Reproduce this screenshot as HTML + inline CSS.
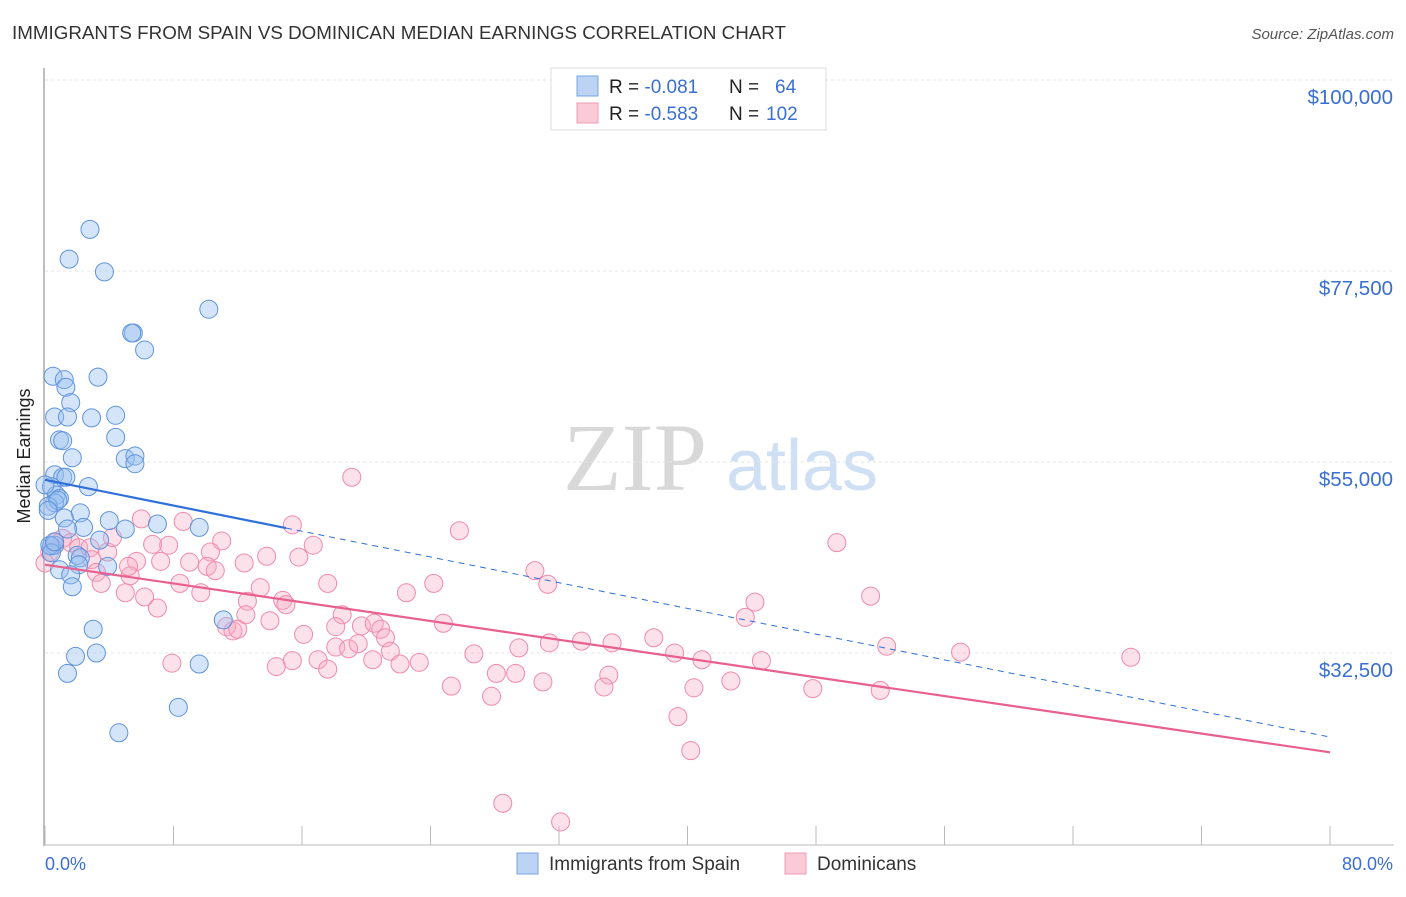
<!DOCTYPE html>
<html><head><meta charset="utf-8"><style>
body{margin:0;background:#fff;font-family:"Liberation Sans",sans-serif}
svg text{font-family:"Liberation Sans",sans-serif}
</style></head><body>
<svg id="chart" width="1406" height="892" xmlns="http://www.w3.org/2000/svg">
<text x="12" y="39" font-size="18" fill="#333" textLength="774" lengthAdjust="spacingAndGlyphs">IMMIGRANTS FROM SPAIN VS DOMINICAN MEDIAN EARNINGS CORRELATION CHART</text>
<text x="1394" y="39" font-size="15" fill="#555" text-anchor="end" font-style="italic">Source: ZipAtlas.com</text>
<g>
<text x="635" y="490" font-size="96" fill="#d8d8d8" text-anchor="middle" font-family="Liberation Serif" style="font-family:'Liberation Serif',serif">ZIP</text>
<text x="802" y="490" font-size="72" fill="#cfe0f5" text-anchor="middle">atlas</text>
</g>
<g id="grid"></g>
<line x1="44" y1="68" x2="44" y2="846" stroke="#aaa" stroke-width="1.5"/>
<line x1="44" y1="845" x2="1394" y2="845" stroke="#bbb" stroke-width="1"/>
<g id="xticks"></g>
<text x="30" y="456" font-size="18" fill="#222" text-anchor="middle" transform="rotate(-90 30 456)">Median Earnings</text>
<text x="45" y="870" font-size="18" fill="#3a6fd1">0.0%</text>
<text x="1393" y="870" font-size="18" fill="#3a6fd1" text-anchor="end">80.0%</text>
<g id="pink"></g><g id="blue"></g><g id="trends"></g>
<g>
<rect x="551" y="68" width="275" height="62" fill="#fff" stroke="#ddd"/>
<rect x="577" y="76" width="21" height="20" fill="#bcd3f3" stroke="#7aa5e3"/>
<rect x="577" y="103" width="21" height="20" fill="#fbcad8" stroke="#f09ab5"/>
<text x="609" y="93" font-size="19" fill="#222">R = <tspan fill="#3a6fd1">-0.081</tspan><tspan x="729">N = </tspan><tspan x="775" fill="#3a6fd1">64</tspan></text>
<text x="609" y="120" font-size="19" fill="#222">R = <tspan fill="#3a6fd1">-0.583</tspan><tspan x="729">N = </tspan><tspan x="766" fill="#3a6fd1">102</tspan></text>
</g>
<g>
<rect x="517" y="853" width="21" height="21" fill="#bcd3f3" stroke="#7aa5e3"/>
<text x="549" y="870" font-size="19" fill="#333">Immigrants from Spain</text>
<rect x="785" y="853" width="21" height="21" fill="#fbcad8" stroke="#f09ab5"/>
<text x="817" y="870" font-size="19" fill="#333">Dominicans</text>
</g>
</svg>
<script>
const yTicks=[100000,77500,55000,32500];
const yTickLabels=["$100,000","$77,500","$55,000","$32,500"];
const xTicks=[0,8,16,24,32,40,48,56,64,72,80];
const spainPct=[2.8,1.5,3.7,10.2,5.5,5.4,6.2,0.5,3.3,1.2,1.3,1.6,0.6,1.4,2.9,4.4,4.4,0.9,1.1,1.7,5.0,5.6,5.6,0.6,1.1,1.3,2.7,0.4,0.7,0.9,0.6,0.2,0.8,2.2,4.0,1.2,7.0,9.6,5.0,2.4,1.4,0.4,0.6,3.4,2.0,2.2,2.1,3.9,0.9,1.6,1.7,3.0,1.9,3.2,1.4,11.1,9.6,8.3,4.6,0.3,0.4,0.2,0.0,0.6];
const spainEarn=[82400,78900,77400,73000,70200,70200,68200,65100,65000,64700,63800,62000,60300,60300,60200,60500,57900,57600,57500,55500,55400,55700,54800,53500,53200,53200,52100,52100,51100,50700,50200,49800,50500,49000,48100,48400,47700,47300,47100,47300,47100,45100,45200,45800,44000,43700,42900,42700,42300,41700,40300,35300,32100,32500,30100,36400,31200,26100,23100,45200,44300,49300,52300,45600];
const domPct=[19.1,25.8,49.3,6.0,8.6,15.4,1.1,0.6,1.6,2.1,2.8,3.9,4.2,6.7,7.7,11.0,10.3,12.4,13.8,15.8,16.7,5.7,7.2,9.0,10.1,10.6,2.9,3.2,3.5,5.3,5.2,8.4,9.7,13.4,14.8,17.6,22.5,24.2,30.5,31.3,51.4,44.2,6.2,5.0,7.0,12.6,12.5,15.0,14.0,18.5,11.3,11.7,12.0,16.1,18.1,19.7,20.5,20.9,21.2,24.8,18.1,18.9,19.5,21.5,20.4,15.4,17.0,17.6,22.1,23.3,26.7,29.5,31.4,33.4,35.3,37.9,39.2,40.9,44.6,52.4,57.0,67.6,7.9,14.4,28.1,29.3,31.0,35.1,34.8,25.3,27.8,40.4,42.7,47.8,52.0,39.4,40.2,28.5,32.1,43.6,0.0,0.3];
const domEarn=[53200,46900,45500,48300,48000,47600,46000,45500,45500,44900,44900,44400,46100,45300,45200,45700,44400,43100,43900,43800,45200,43300,43300,43200,42700,42200,43500,42000,40700,41600,42700,40700,39600,40200,38700,40700,39600,40700,42200,40600,39200,38500,39100,39600,37800,38600,37000,38200,36300,37000,35600,35100,35300,34700,35600,35700,36000,35300,34300,36000,33200,33000,33600,32700,31700,31600,31700,30600,31200,31400,32400,33100,33700,33900,33700,34300,32500,31700,31600,33300,32600,32000,31300,30900,30100,30100,29100,29900,28500,28600,27400,28400,29200,28300,28100,25000,21000,14800,12600,36700,43100,44400];
const spainTrend=[52900,22600];
const domTrend=[42900,20800];
const spainSolidEnd=15;

const NS="http://www.w3.org/2000/svg";
const X=p=>45+p/80*1285;
const Y=v=>80+(100000-v)/22500*191;
function mk(tag,attrs,parent){const e=document.createElementNS(NS,tag);for(const k in attrs)e.setAttribute(k,attrs[k]);document.getElementById(parent).appendChild(e);return e;}
yTicks.forEach((v,i)=>{
  const l=mk('line',{x1:45,x2:1394,y1:Y(v),y2:Y(v),stroke:'#e4e4e4','stroke-dasharray':'3,3'},'grid');
  
  
  const t=mk('text',{x:1393,y:Y(v)+24,'font-size':20.5,fill:'#3a6fd1','text-anchor':'end'},'grid');
  t.textContent=yTickLabels[i];
  
  
});
xTicks.forEach(p=>{
  const l=mk('line',{x1:X(p),x2:X(p),y1:826,y2:845,stroke:'#bbb'},'xticks');
  
  
});
domPct.forEach((p,i)=>{
  const c=mk('circle',{cx:X(p),cy:Y(domEarn[i]),r:9,fill:'rgba(247,170,196,0.35)',stroke:'#f08aab','stroke-width':1},'pink');
  
  
});
spainPct.forEach((p,i)=>{
  const c=mk('circle',{cx:X(p),cy:Y(spainEarn[i]),r:9,fill:'rgba(150,190,240,0.4)',stroke:'#5f93dc','stroke-width':1},'blue');
  
  
});
const sAt=p=>spainTrend[0]+(spainTrend[1]-spainTrend[0])*p/80;
let t1=mk('line',{x1:X(0),y1:Y(sAt(0)),x2:X(spainSolidEnd),y2:Y(sAt(spainSolidEnd)),stroke:'#2e6fd8','stroke-width':2.2},'trends');


let t2=mk('line',{x1:X(spainSolidEnd),y1:Y(sAt(spainSolidEnd)),x2:X(80),y2:Y(sAt(80)),stroke:'#2e6fd8','stroke-width':1,'stroke-dasharray':'6,5'},'trends');


let t3=mk('line',{x1:X(0),y1:Y(domTrend[0]),x2:X(80),y2:Y(domTrend[1]),stroke:'#e8608f','stroke-width':2.2},'trends');


</script>
</body></html>
